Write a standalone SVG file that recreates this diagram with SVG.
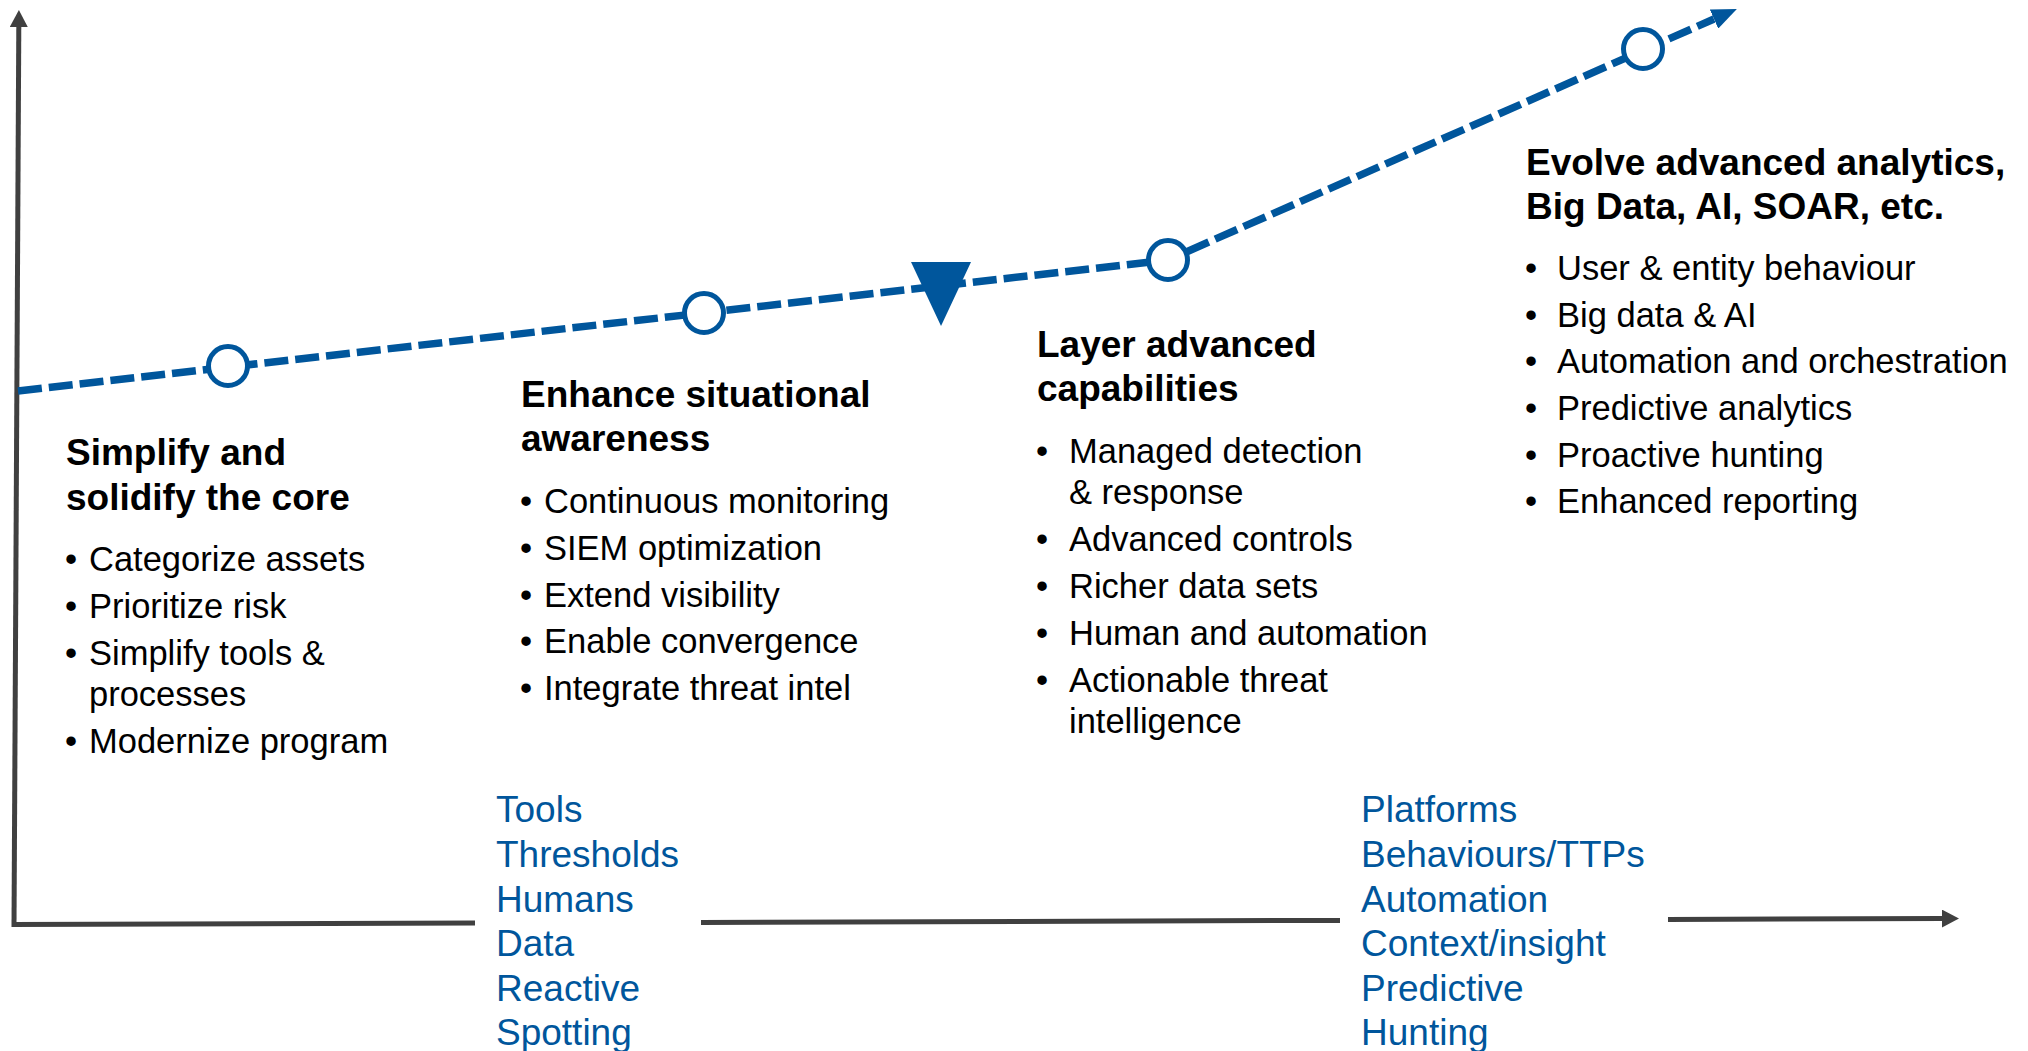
<svg xmlns="http://www.w3.org/2000/svg" width="2028" height="1051" viewBox="0 0 2028 1051">
<defs>
<style>
.title{font-family:"Liberation Sans",Arial,sans-serif;font-weight:bold;font-size:37px;fill:#000}
.body{font-family:"Liberation Sans",Arial,sans-serif;font-size:34.5px;fill:#000}
.blue{font-family:"Liberation Sans",Arial,sans-serif;font-size:37px;fill:#00569C}
.axis{stroke:#404040;stroke-width:5;fill:none}
.path{stroke:#00569C;stroke-width:7.5;fill:none;stroke-dasharray:24 7}
.ms{fill:#fff;stroke:#00569C;stroke-width:5}
</style>
<marker id="ga" markerUnits="userSpaceOnUse" markerWidth="17" markerHeight="18" refX="0" refY="9" orient="auto" viewBox="0 0 17 18">
<path d="M0,0 L17,9 L0,18 z" fill="#404040"/>
</marker>
<marker id="ba" markerUnits="userSpaceOnUse" markerWidth="25" markerHeight="21" refX="0" refY="10.5" orient="auto" viewBox="0 0 25 21">
<path d="M0,0 L25,10.5 L0,21 z" fill="#00569C"/>
</marker>
</defs>
<rect width="2028" height="1051" fill="#fff"/>
<g id="connectors">
<line class="axis" x1="14" y1="927" x2="18.8" y2="27" marker-end="url(#ga)"/>
<line class="axis" x1="12" y1="924.5" x2="475" y2="923"/>
<line class="axis" x1="701" y1="922.4" x2="1340" y2="920.4"/>
<line class="axis" x1="1668" y1="919.4" x2="1942" y2="918.6" marker-end="url(#ga)"/>
<path class="path" d="M18,391 L1168,260 L1714,19" marker-end="url(#ba)"/>
</g>
<g id="milestones">
<circle class="ms" cx="228" cy="366" r="19.5"/>
<circle class="ms" cx="704" cy="313" r="19.5"/>
<circle class="ms" cx="1168" cy="260" r="19.5"/>
<circle class="ms" cx="1643" cy="49" r="19.5"/>
<polygon points="911,262 971,262 941,326" fill="#00569C"/>
</g>
<g id="node-core">
<text class="title" x="66" y="465">Simplify and</text>
<text class="title" x="66" y="510">solidify the core</text>
<text class="body" x="65" y="571">•</text><text class="body" x="89" y="571">Categorize assets</text>
<text class="body" x="65" y="618">•</text><text class="body" x="89" y="618">Prioritize risk</text>
<text class="body" x="65" y="665">•</text><text class="body" x="89" y="665">Simplify tools &amp;</text>
<text class="body" x="89" y="706">processes</text>
<text class="body" x="65" y="753">•</text><text class="body" x="89" y="753">Modernize program</text>
</g>
<g id="node-awareness">
<text class="title" x="521" y="407">Enhance situational</text>
<text class="title" x="521" y="451">awareness</text>
<text class="body" x="520" y="513">•</text><text class="body" x="544" y="513">Continuous monitoring</text>
<text class="body" x="520" y="560">•</text><text class="body" x="544" y="560">SIEM optimization</text>
<text class="body" x="520" y="607">•</text><text class="body" x="544" y="607">Extend visibility</text>
<text class="body" x="520" y="653">•</text><text class="body" x="544" y="653">Enable convergence</text>
<text class="body" x="520" y="700">•</text><text class="body" x="544" y="700">Integrate threat intel</text>
</g>
<g id="node-layer">
<text class="title" x="1037" y="357">Layer advanced</text>
<text class="title" x="1037" y="401">capabilities</text>
<text class="body" x="1036" y="463">•</text><text class="body" x="1069" y="463">Managed detection</text>
<text class="body" x="1069" y="504">&amp; response</text>
<text class="body" x="1036" y="551">•</text><text class="body" x="1069" y="551">Advanced controls</text>
<text class="body" x="1036" y="598">•</text><text class="body" x="1069" y="598">Richer data sets</text>
<text class="body" x="1036" y="645">•</text><text class="body" x="1069" y="645">Human and automation</text>
<text class="body" x="1036" y="692">•</text><text class="body" x="1069" y="692">Actionable threat</text>
<text class="body" x="1069" y="733">intelligence</text>
</g>
<g id="node-evolve">
<text class="title" x="1526" y="175">Evolve advanced analytics,</text>
<text class="title" x="1526" y="219">Big Data, AI, SOAR, etc.</text>
<text class="body" x="1525" y="280">•</text><text class="body" x="1557" y="280">User &amp; entity behaviour</text>
<text class="body" x="1525" y="327">•</text><text class="body" x="1557" y="327">Big data &amp; AI</text>
<text class="body" x="1525" y="373">•</text><text class="body" x="1557" y="373">Automation and orchestration</text>
<text class="body" x="1525" y="420">•</text><text class="body" x="1557" y="420">Predictive analytics</text>
<text class="body" x="1525" y="467">•</text><text class="body" x="1557" y="467">Proactive hunting</text>
<text class="body" x="1525" y="513">•</text><text class="body" x="1557" y="513">Enhanced reporting</text>
</g>
<g id="node-from">
<text class="blue" x="496" y="822">Tools</text>
<text class="blue" x="496" y="867">Thresholds</text>
<text class="blue" x="496" y="912">Humans</text>
<text class="blue" x="496" y="956">Data</text>
<text class="blue" x="496" y="1001">Reactive</text>
<text class="blue" x="496" y="1045">Spotting</text>
</g>
<g id="node-to">
<text class="blue" x="1361" y="822">Platforms</text>
<text class="blue" x="1361" y="867">Behaviours/TTPs</text>
<text class="blue" x="1361" y="912">Automation</text>
<text class="blue" x="1361" y="956">Context/insight</text>
<text class="blue" x="1361" y="1001">Predictive</text>
<text class="blue" x="1361" y="1045">Hunting</text>
</g>
</svg>
